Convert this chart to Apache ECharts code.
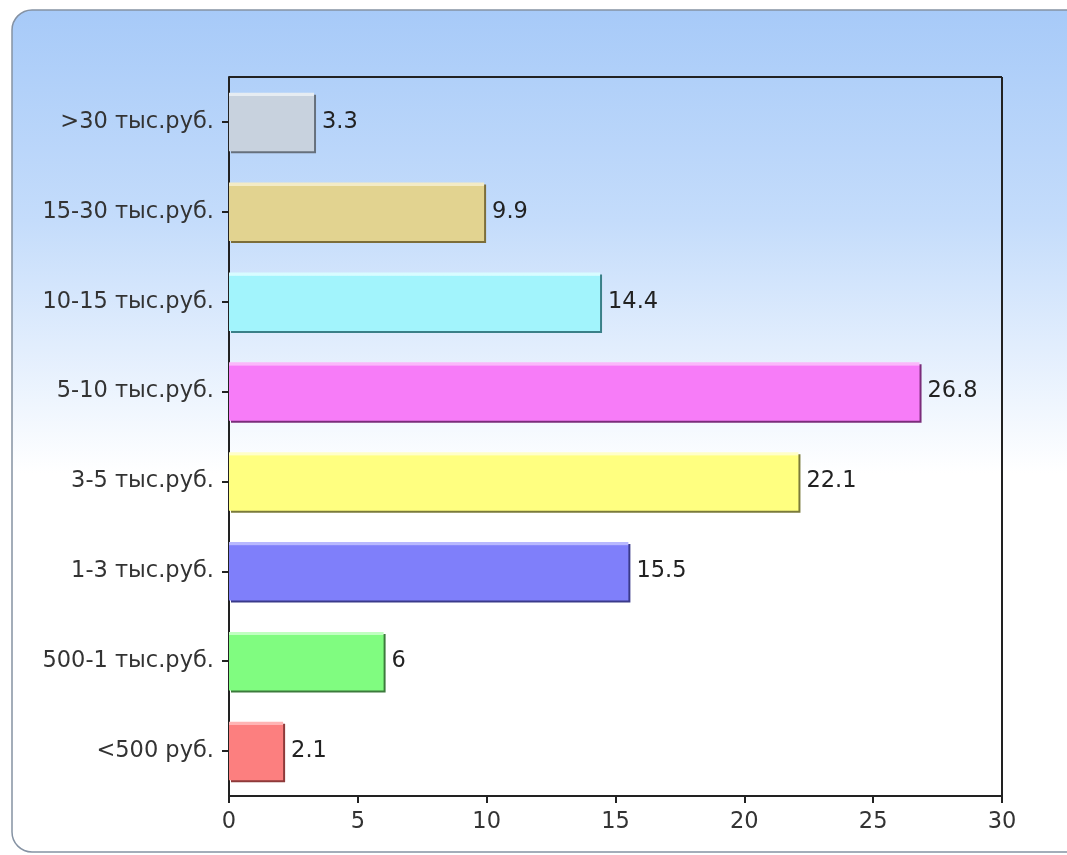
<!DOCTYPE html>
<html>
<head>
<meta charset="utf-8">
<script src="https://cdn.jsdelivr.net/npm/echarts@6/dist/echarts.min.js"></script>
<style>
  html, body { margin: 0; padding: 0; background: #ffffff; }
  #chart { width: 1067px; height: 855px; }
</style>
</head>
<body>
<div id="chart"></div>
<script>
// Income groups, listed bottom to top
const categories = ['<500 руб.', '500-1 тыс.руб.', '1-3 тыс.руб.', '3-5 тыс.руб.', '5-10 тыс.руб.', '10-15 тыс.руб.', '15-30 тыс.руб.', '>30 тыс.руб.'];
const values = [2.1, 6, 15.5, 22.1, 26.8, 14.4, 9.9, 3.3];
const xTicks = [0, 5, 10, 15, 20, 25, 30];

// Per-bar fill, top highlight and dark edge
const fills = ['#fc7f7f', '#80fc80', '#7f7ffa', '#ffff80', '#f77cf8', '#a2f4fc', '#e2d390', '#c8d2de'];
const highlights = ['#ffb4b4', '#c0ffc0', '#b8b8ff', '#ffffc8', '#fbb8fb', '#d8fcff', '#f3ebc6', '#e6ecf2'];
const edges = ['#8e3a3a', '#3c7a3c', '#3a3a8a', '#7a7a3a', '#7a2c7a', '#3a8088', '#7c6e3a', '#66707c'];

const chart = echarts.init(document.getElementById('chart'), null, { renderer: 'canvas' });

const FONT = 'DejaVu Sans';
const FONT_SIZE = 22.5;

const barData = values.map((v, i) => ({
  value: v,
  itemStyle: {
    color: {
      type: 'linear', x: 0, y: 0, x2: 0, y2: 1,
      colorStops: [
        { offset: 0, color: highlights[i] },
        { offset: 0.05, color: highlights[i] },
        { offset: 0.06, color: fills[i] },
        { offset: 1, color: fills[i] }
      ]
    },
    shadowColor: edges[i],
    shadowBlur: 0,
    shadowOffsetX: 2,
    shadowOffsetY: 2
  }
}));

chart.setOption({
  animation: false,
  graphic: [{
    type: 'rect',
    z: -10,
    silent: true,
    shape: { x: 12, y: 10, width: 1075, height: 842, r: 20 },
    style: {
      fill: {
        type: 'linear', x: 0, y: 0, x2: 0, y2: 1,
        colorStops: [
          { offset: 0, color: '#a7caf8' },
          { offset: 0.25, color: '#c4dcfb' },
          { offset: 0.55, color: '#ffffff' },
          { offset: 1, color: '#ffffff' }
        ]
      },
      stroke: '#8592a3',
      lineWidth: 1.5
    }
  }],
  grid: { left: 229, right: 65, top: 77, bottom: 59, containLabel: false, show: false },
  xAxis: {
    type: 'value',
    min: 0,
    max: 30,
    interval: 5,
    axisLine: { show: true, onZero: false, lineStyle: { color: '#222', width: 2 } },
    axisTick: { show: true, length: 7, lineStyle: { color: '#222', width: 2 } },
    axisLabel: {
      fontFamily: FONT, fontSize: FONT_SIZE, color: '#333', margin: 15,
      formatter: v => (xTicks.includes(v) ? String(v) : '')
    },
    splitLine: { show: false }
  },
  yAxis: {
    type: 'category',
    data: categories,
    axisLine: { show: true, lineStyle: { color: '#222', width: 2 } },
    axisTick: { show: true, length: 7, alignWithLabel: true, lineStyle: { color: '#222', width: 2 } },
    axisLabel: { fontFamily: FONT, fontSize: FONT_SIZE, color: '#333', margin: 15 },
    splitLine: { show: false }
  },
  series: [{
    type: 'bar',
    data: barData,
    barWidth: '65%',
    label: {
      show: true,
      position: 'right',
      distance: 8,
      fontFamily: FONT,
      fontSize: FONT_SIZE,
      color: '#222',
      formatter: p => String(p.value)
    },
    // frame lines on top and right of the plot
    markLine: {
      silent: true,
      symbol: 'none',
      label: { show: false },
      lineStyle: { color: '#222', width: 2, type: 'solid' },
      data: [
        [{ x: 229, y: 77 }, { x: 1002, y: 77 }],
        [{ x: 1002, y: 77 }, { x: 1002, y: 796 }]
      ]
    }
  }]
});
</script>
</body>
</html>
